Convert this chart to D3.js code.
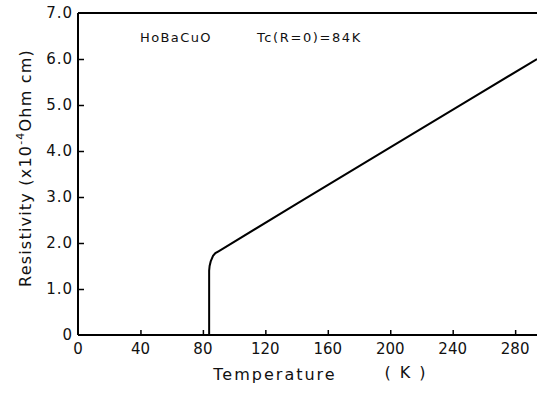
<!DOCTYPE html>
<html>
<head>
<meta charset="utf-8">
<style>
body { margin: 0; background: #fff; }
text { font-family: "DejaVu Sans", sans-serif; fill: #111; }
</style>
</head>
<body>
<script src="https://cdn.jsdelivr.net/npm/d3@7"></script>
<script>
// temperature (K) vs resistivity (x10^-4 Ohm cm)
var temps = [84, 84, 84, 84.3, 85, 86.5, 88, 90, 140, 200, 250, 294];
var resist = [0, 0.8, 1.4, 1.5, 1.6, 1.72, 1.78, 1.82, 2.85, 4.08, 5.1, 6.0];
var xTicks = [0, 40, 80, 120, 160, 200, 240, 280];
var yTicks = [0, 1, 2, 3, 4, 5, 6, 7];

var w = 537, h = 393;
var padL = 78, padT = 13, padB = 335, padR = 537;

var svg = d3.select("body").append("svg").attr("width", w).attr("height", h);

var x = d3.scaleLinear().domain([0, 294]).range([padL, padR]);
var y = d3.scaleLinear().domain([0, 7]).range([padB, padT]);

// top frame line
svg.append("line").attr("x1", padL).attr("x2", padR).attr("y1", padT).attr("y2", padT)
  .attr("stroke", "#000").attr("stroke-width", 2);

var yAxis = svg.append("g").attr("transform", "translate(" + padL + ",0)")
  .call(d3.axisRight(y).tickValues(yTicks.slice(1, 7)).tickSize(6).tickFormat(""));
var xAxis = svg.append("g").attr("transform", "translate(0," + padB + ")")
  .call(d3.axisTop(x).tickValues(xTicks.slice(1)).tickSize(5).tickFormat(""));
svg.selectAll(".domain").attr("stroke", "#000").attr("stroke-width", 2);
svg.selectAll(".tick line").attr("stroke", "#000").attr("stroke-width", 1.5);
xAxis.select(".domain").attr("d", "M" + padL + ",0H" + padR);
yAxis.select(".domain").attr("d", "M0," + padT + "V" + padB);

svg.selectAll(".ylab").data(yTicks).enter().append("text")
  .attr("x", padL - 5).attr("y", function(d){ return y(d) + 5; })
  .attr("text-anchor", "end").attr("font-size", 15).attr("letter-spacing", 1)
  .text(function(d){ return d === 0 ? "0" : d.toFixed(1); });

svg.selectAll(".xlab").data(xTicks).enter().append("text")
  .attr("x", function(d){ return x(d); }).attr("y", padB + 19)
  .attr("text-anchor", "middle").attr("font-size", 15)
  .text(function(d){ return d; });

svg.append("text").attr("x", 275).attr("y", 380).attr("text-anchor", "middle")
  .attr("font-size", 16).attr("letter-spacing", 2).text("Temperature");
svg.append("text").attr("x", 406).attr("y", 378).attr("text-anchor", "middle")
  .attr("font-size", 16).attr("letter-spacing", 2).text("( K )");

var yl = svg.append("text").attr("transform", "translate(31,168) rotate(-90)")
  .attr("text-anchor", "middle").attr("font-size", 16).attr("letter-spacing", 1.2);
yl.append("tspan").text("Resistivity  (x10");
yl.append("tspan").attr("dy", -7).attr("font-size", 11).text("-4");
yl.append("tspan").attr("dy", 7).text("Ohm cm)");

svg.append("text").attr("x", 140).attr("y", 42).attr("font-size", 13)
  .attr("letter-spacing", 1.4).text("HoBaCuO");
svg.append("text").attr("x", 257).attr("y", 42).attr("font-size", 13)
  .attr("letter-spacing", 1.6).text("Tc(R=0)=84K");

var line = d3.line().x(function(d, i){ return x(temps[i]); })
  .y(function(d){ return y(d); }).curve(d3.curveLinear);

svg.append("path").datum(resist).attr("d", line)
  .attr("fill", "none").attr("stroke", "#000").attr("stroke-width", 2);
</script>
</body>
</html>
